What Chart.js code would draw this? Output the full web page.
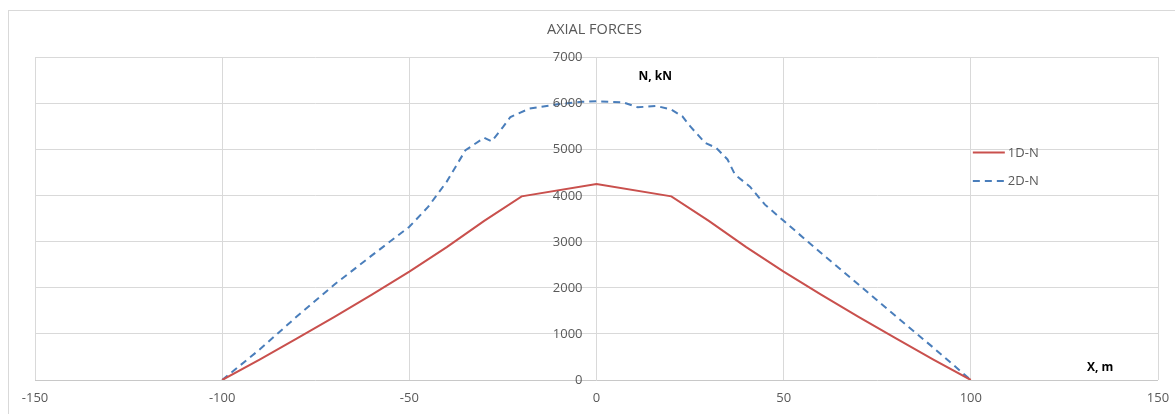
<!DOCTYPE html>
<html>
<head>
<meta charset="utf-8">
<title>Axial forces</title>
<script src="https://cdn.jsdelivr.net/npm/chart.js@4"></script>
<style>
  html, body { margin: 0; padding: 0; background: #fff; }
  #wrap { position: relative; width: 1175px; height: 414px; overflow: hidden; }
  #frame { position: absolute; left: 8px; top: 10px; width: 1200px; height: 420px;
           border: 1px solid #d9d9d9; box-sizing: border-box; }
  canvas { position: absolute; left: 0; top: 0; }
</style>
</head>
<body>
<div id="wrap">
  <div id="frame"></div>
  <canvas id="chart" width="1175" height="414"></canvas>
</div>
<script>
// 1D model: axial force along the span
const x1D = [-100, -90, -80, -70, -60, -50, -40, -30, -20, 0, 20, 30, 40, 50, 60, 70, 80, 90, 100];
const n1D = [0, 440, 900, 1370, 1850, 2350, 2880, 3450, 3980, 4250, 3980, 3450, 2880, 2350, 1850, 1370, 900, 440, 0];

// 2D model: axial force along the span
const x2D = [-100, -90, -80, -70, -60, -50, -45, -40, -35, -30, -28, -25, -23, -18, -10, -4, 0,
             7, 11, 16, 20, 23, 25, 29, 32, 35, 37, 41, 45, 50, 60, 70, 80, 90, 100];
const n2D = [0, 660, 1380, 2070, 2700, 3320, 3750, 4300, 4980, 5250, 5170, 5480, 5700, 5880, 5980, 6030, 6040,
             6020, 5910, 5940, 5860, 5710, 5500, 5140, 5030, 4780, 4450, 4190, 3800, 3450, 2750, 2070, 1380, 700, 0];

const seriesNames = ["1D-N", "2D-N"];
const xTicks = [-150, -100, -50, 0, 50, 100, 150];
const yTicks = [0, 1000, 2000, 3000, 4000, 5000, 6000, 7000];

const FONT = "'Open Sans', 'Liberation Sans', sans-serif";
const TEXT = "#595959";
const GRID = "#d9d9d9";

const toPoints = (xs, ys) => xs.map((x, i) => ({ x: x, y: ys[i] }));

/* ---------------------------
    TEXT: title, axis names, y labels, legend
------------------------------ */
const decorations = {
    id: "decorations",
    afterDraw(chart) {
        const ctx = chart.ctx;
        const xs = chart.scales.x;
        const ys = chart.scales.y;
        const area = chart.chartArea;
        const x0 = xs.getPixelForValue(0);

        ctx.save();

        // title
        ctx.fillStyle = TEXT;
        ctx.font = "14.5px " + FONT;
        ctx.textAlign = "center";
        ctx.textBaseline = "middle";
        ctx.fillText("AXIAL FORCES", (area.left + area.right) / 2 - 2, 30);

        // y tick labels sit next to the axis at x = 0
        ctx.font = "13px " + FONT;
        ctx.textAlign = "right";
        yTicks.forEach(v => {
            ctx.fillText(String(v), x0 - 14, ys.getPixelForValue(v) + 0.5);
        });

        // axis names
        ctx.fillStyle = "#000";
        ctx.font = "bold 12px " + FONT;
        ctx.textAlign = "left";
        ctx.fillText("N, kN", x0 + 42, 77);
        ctx.fillText("X, m", xs.getPixelForValue(131), 368);

        // legend
        const lx = xs.getPixelForValue(100) + 2;
        const rows = [152.5, 181];
        chart.data.datasets.forEach((ds, i) => {
            ctx.strokeStyle = ds.borderColor;
            ctx.lineWidth = ds.borderWidth;
            ctx.setLineDash(ds.borderDash || []);
            ctx.beginPath();
            ctx.moveTo(lx, rows[i]);
            ctx.lineTo(lx + 32, rows[i]);
            ctx.stroke();
            ctx.setLineDash([]);
            ctx.fillStyle = TEXT;
            ctx.font = "13px " + FONT;
            ctx.fillText(ds.label, lx + 35, rows[i] + 0.5);
        });

        ctx.restore();
    }
};

new Chart(document.getElementById("chart"), {
    type: "scatter",
    data: {
        datasets: [{
            label: seriesNames[0],
            data: toPoints(x1D, n1D),
            showLine: true,
            borderColor: "#c9504d",
            borderWidth: 2,
            pointRadius: 0,
            tension: 0
        }, {
            label: seriesNames[1],
            data: toPoints(x2D, n2D),
            showLine: true,
            borderColor: "#4a7ebb",
            borderWidth: 2,
            borderDash: [7, 5],
            pointRadius: 0,
            tension: 0
        }]
    },
    options: {
        responsive: false,
        animation: false,
        layout: { padding: { left: 35, right: 17, top: 57, bottom: 0 } },
        plugins: {
            legend: { display: false },
            title: { display: false },
            tooltip: { enabled: false }
        },
        scales: {
            x: {
                type: "linear",
                min: xTicks[0],
                max: xTicks[xTicks.length - 1],
                afterBuildTicks: s => { s.ticks = xTicks.map(v => ({ value: v })); },
                afterFit: s => {
                    s.height = 34;
                    // end labels may overhang the plot area
                    s.paddingLeft = 0;
                    s.paddingRight = 0;
                },
                border: { display: false },
                grid: { color: GRID, lineWidth: 1, drawTicks: false },
                ticks: { color: TEXT, font: { family: FONT, size: 13 }, padding: 10, maxRotation: 0 }
            },
            y: {
                type: "linear",
                min: yTicks[0],
                max: yTicks[yTicks.length - 1],
                afterBuildTicks: s => { s.ticks = yTicks.map(v => ({ value: v })); },
                afterFit: s => { s.width = 0; },
                border: { display: false },
                grid: {
                    color: c => (c.tick && c.tick.value === 0 ? "#c8c8c8" : GRID),
                    lineWidth: 1,
                    drawTicks: false
                },
                ticks: { display: false }
            }
        }
    },
    plugins: [decorations]
});
</script>
</body>
</html>
